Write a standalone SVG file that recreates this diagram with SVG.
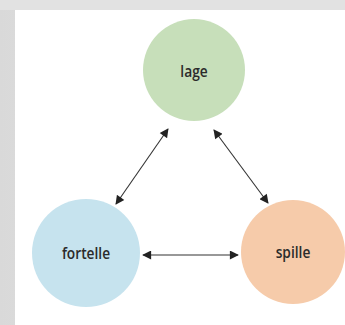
<svg xmlns="http://www.w3.org/2000/svg" width="345" height="325" viewBox="0 0 345 325">
<defs>
<linearGradient id="bg" x1="0" y1="0" x2="1" y2="0">
<stop offset="0" stop-color="#d9d9d9"/>
<stop offset="1" stop-color="#eeeeee"/>
</linearGradient>
<marker id="ah" viewBox="0 0 10 10" refX="9" refY="5" markerWidth="10" markerHeight="9" markerUnits="userSpaceOnUse" orient="auto-start-reverse">
<path d="M0,0 L10,5 L0,10 z" fill="#222"/>
</marker>
<style>
.lbl{font-family:"Open Sans","Liberation Sans",sans-serif;font-weight:600;font-size:16px;fill:#2b2b2b;text-anchor:middle;}
.con{stroke:#333;stroke-width:1.1;fill:none;marker-start:url(#ah);marker-end:url(#ah);}
</style>
</defs>
<rect x="0" y="0" width="345" height="325" fill="url(#bg)"/>
<rect x="0" y="0" width="345" height="10" fill="#e2e2e2"/>
<rect x="15" y="10" width="330" height="315" fill="#ffffff"/>
<g id="lage">
<circle cx="194" cy="70" r="51" fill="#c7dfba"/>
<text class="lbl" transform="translate(194,77) scale(0.86,1)">lage</text>
</g>
<g id="fortelle">
<circle cx="86" cy="253" r="54" fill="#c6e3ee"/>
<text class="lbl" transform="translate(86,259) scale(0.86,1)">fortelle</text>
</g>
<g id="spille">
<circle cx="293" cy="252" r="52" fill="#f6cbaa"/>
<text class="lbl" transform="translate(293,258) scale(0.86,1)">spille</text>
</g>
<g id="connectors">
<line class="con" x1="116" y1="204" x2="168" y2="129"/>
<line class="con" x1="214" y1="130" x2="268" y2="203"/>
<line class="con" x1="143" y1="255" x2="238" y2="255"/>
</g>
</svg>
